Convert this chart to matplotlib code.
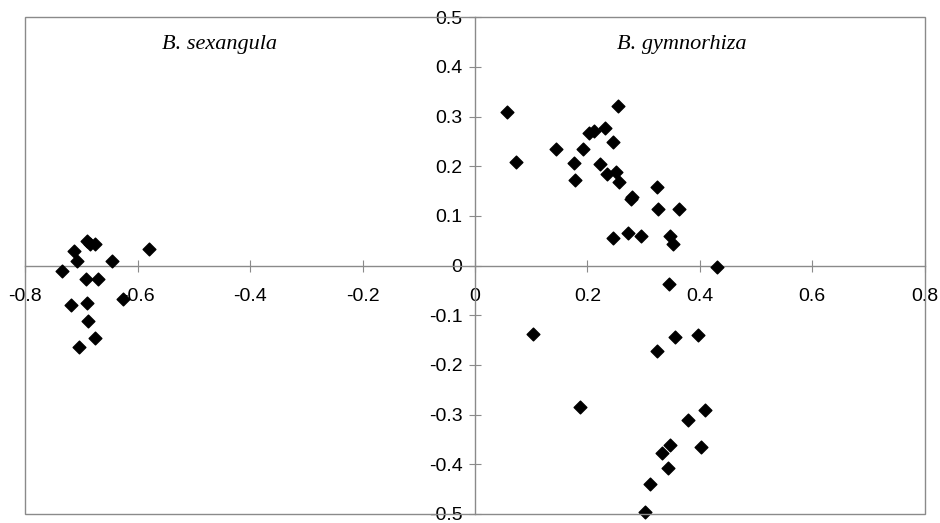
import matplotlib
matplotlib.use("Agg")
import matplotlib.pyplot as plt
from matplotlib.patches import Rectangle

plt.rcParams['axes.unicode_minus'] = False
plt.rcParams['font.family'] = ['Liberation Sans', 'DejaVu Sans']

sex_x = [-0.691, -0.685, -0.677, -0.714, -0.580, -0.709, -0.646, -0.735, -0.693,
         -0.671, -0.626, -0.718, -0.691, -0.689, -0.676, -0.704]
sex_y = [0.050, 0.044, 0.044, 0.030, 0.034, 0.009, 0.009, -0.010, -0.027,
         -0.027, -0.068, -0.079, -0.076, -0.111, -0.145, -0.164]

gym_x = [0.0575, 0.254, 0.073, 0.232, 0.203, 0.212, 0.246, 0.145, 0.192, 0.176,
         0.222, 0.178, 0.234, 0.250, 0.256, 0.280, 0.278, 0.323, 0.325, 0.363,
         0.245, 0.273, 0.296, 0.347, 0.352, 0.430,
         0.345, 0.104, 0.355, 0.397, 0.324, 0.186, 0.409, 0.379, 0.347, 0.402,
         0.332, 0.343, 0.311, 0.303]
gym_y = [0.310, 0.321, 0.208, 0.278, 0.268, 0.272, 0.249, 0.235, 0.235, 0.207,
         0.204, 0.172, 0.184, 0.188, 0.168, 0.139, 0.135, 0.159, 0.114, 0.114,
         0.056, 0.066, 0.059, 0.060, 0.043, -0.002,
         -0.037, -0.137, -0.143, -0.140, -0.172, -0.284, -0.290, -0.310, -0.361, -0.365,
         -0.377, -0.408, -0.440, -0.496]

xticks = [-0.8, -0.6, -0.4, -0.2, 0, 0.2, 0.4, 0.6, 0.8]
xlabels = ['-0.8', '-0.6', '-0.4', '-0.2', '0', '0.2', '0.4', '0.6', '0.8']
yticks = [-0.5, -0.4, -0.3, -0.2, -0.1, 0, 0.1, 0.2, 0.3, 0.4, 0.5]
ylabels = ['-0.5', '-0.4', '-0.3', '-0.2', '-0.1', '0', '0.1', '0.2', '0.3', '0.4', '0.5']

fig = plt.figure(figsize=(9.4, 5.23), dpi=100)
W, H = 940, 523
left, right, top, bottom = 25.4, 924.6, 17.3, 514.0
ax = fig.add_axes([left / W, 1 - bottom / H, (right - left) / W, (bottom - top) / H])
ax.set_xlim(-0.8, 0.8)
ax.set_ylim(-0.5, 0.5)

axcol = '#8a8a8a'
for s in ['top', 'right']:
    ax.spines[s].set_visible(False)
ax.spines['left'].set_position(('data', 0))
ax.spines['bottom'].set_position(('data', 0))
for s in ['left', 'bottom']:
    ax.spines[s].set_color(axcol)
    ax.spines[s].set_linewidth(1.0)

ax.set_xticks(xticks)
ax.set_xticklabels(xlabels)
ax.set_yticks(yticks)
ax.set_yticklabels(ylabels)
ax.tick_params(axis='x', direction='inout', length=8, width=0.8, color=axcol,
               labelsize=14, pad=12)
ax.tick_params(axis='y', direction='inout', length=8, width=0.8, color=axcol,
               labelsize=14, pad=5)

ax.scatter(sex_x, sex_y, marker='D', s=42, color='black', zorder=5, clip_on=False)
ax.scatter(gym_x, gym_y, marker='D', s=42, color='black', zorder=5, clip_on=False)

ax.text(-0.455, 0.437, 'B. sexangula', family='Liberation Serif', style='italic',
        fontsize=16, ha='center', va='baseline')
ax.text(0.368, 0.437, 'B. gymnorhiza', family='Liberation Serif', style='italic',
        fontsize=16, ha='center', va='baseline')

frame = Rectangle((0, 0), 1, 1, transform=ax.transAxes, fill=False,
                  edgecolor=axcol, linewidth=1.0, zorder=10, clip_on=False)
ax.add_patch(frame)

fig.savefig('out.png', dpi=100)
